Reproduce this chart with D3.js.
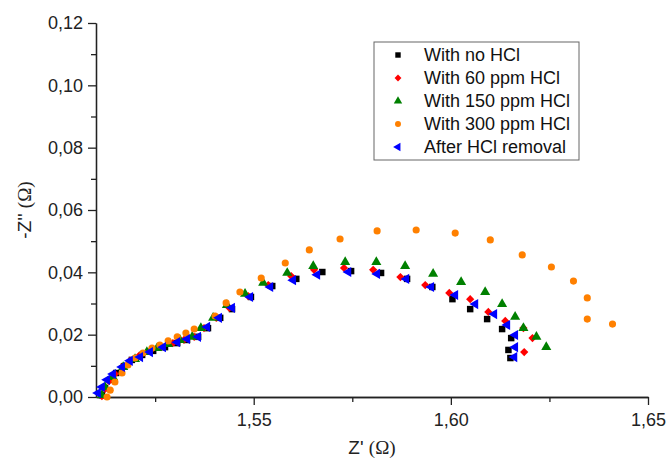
<!DOCTYPE html>
<html lang="en">
<head>
<meta charset="UTF-8"/>
<title>Nyquist plot HCl</title>
<script src="https://d3js.org/d3.v7.min.js"></script>
<style>
  body { margin: 0; background: #fff; }
  svg text { font-family: Arial, "Liberation Sans", sans-serif; }
</style>
</head>
<body>
<script>
// series names and values (Z', -Z'')
var seriesNames = ["With no HCl", "With 60 ppm HCl", "With 150 ppm HCl", "With 300 ppm HCl", "After HCl removal"];

var noHCl = [
  [1.6151,0.0125],[1.6146,0.0151],[1.6153,0.0189],[1.6130,0.0218],[1.6092,0.0250],[1.6049,0.0282],
  [1.6004,0.0314],[1.5953,0.0353],[1.5889,0.0379],[1.5823,0.0398],[1.5747,0.0404],[1.5674,0.0401],
  [1.5608,0.0379],[1.5547,0.0356],[1.5493,0.0321],[1.5445,0.0282],[1.5415,0.0254],[1.5384,0.0221],
  [1.5359,0.0193],[1.5331,0.0183],[1.5306,0.0173],[1.5275,0.0160],[1.5245,0.0148],[1.5217,0.0135],
  [1.5191,0.0119],[1.5171,0.0099],[1.5151,0.0077],[1.5136,0.0055],[1.5123,0.0029],[1.5115,0.0006]
];
var hcl60 = [
  [1.6186,0.0144],[1.6207,0.0189],[1.6184,0.0221],[1.6138,0.0244],[1.6095,0.0273],[1.6049,0.0314],
  [1.5996,0.0334],[1.5935,0.0359],[1.5872,0.0385],[1.5803,0.0408],[1.5729,0.0414],[1.5653,0.0408],
  [1.5595,0.0388],[1.5537,0.0359],[1.5486,0.0324],[1.5438,0.0286],[1.5405,0.0254],[1.5374,0.0221],
  [1.5349,0.0193],[1.5323,0.0183],[1.5295,0.0173],[1.5265,0.0160],[1.5237,0.0148],[1.5209,0.0132],
  [1.5186,0.0116],[1.5166,0.0096],[1.5148,0.0074],[1.5133,0.0051],[1.5123,0.0026],[1.5115,0.0003]
];
var hcl150 = [
  [1.6242,0.0160],[1.6217,0.0193],[1.6184,0.0221],[1.6163,0.0257],[1.6130,0.0298],[1.6087,0.0337],
  [1.6026,0.0369],[1.5955,0.0395],[1.5884,0.0420],[1.5811,0.0433],[1.5732,0.0433],[1.5651,0.0420],
  [1.5585,0.0398],[1.5524,0.0366],[1.5478,0.0331],[1.5432,0.0295],[1.5397,0.0254],[1.5366,0.0221],
  [1.5344,0.0193],[1.5313,0.0183],[1.5283,0.0170],[1.5255,0.0157],[1.5229,0.0144],[1.5199,0.0122],
  [1.5169,0.0096],[1.5143,0.0064],[1.5123,0.0032],[1.5115,0.0006]
];
var hcl300 = [
  [1.6410,0.0234],[1.6346,0.0250],[1.6346,0.0318],[1.6311,0.0372],[1.6255,0.0417],[1.6181,0.0456],
  [1.6100,0.0504],[1.6011,0.0526],[1.5912,0.0536],[1.5813,0.0533],[1.5719,0.0507],[1.5641,0.0472],
  [1.5580,0.0430],[1.5519,0.0382],[1.5465,0.0337],[1.5430,0.0302],[1.5402,0.0260],[1.5349,0.0218],
  [1.5328,0.0205],[1.5306,0.0193],[1.5283,0.0180],[1.5262,0.0167],[1.5242,0.0157],[1.5219,0.0141],
  [1.5199,0.0125],[1.5181,0.0103],[1.5166,0.0077],[1.5148,0.0048],[1.5136,0.0022],[1.5128,0.0000]
];
var afterRemoval = [
  [1.6161,0.0128],[1.6163,0.0160],[1.6163,0.0199],[1.6143,0.0231],[1.6110,0.0266],[1.6062,0.0298],
  [1.6011,0.0327],[1.5950,0.0353],[1.5887,0.0379],[1.5813,0.0395],[1.5740,0.0401],[1.5661,0.0392],
  [1.5600,0.0375],[1.5542,0.0353],[1.5491,0.0321],[1.5445,0.0286],[1.5412,0.0254],[1.5382,0.0225],
  [1.5359,0.0193],[1.5331,0.0186],[1.5306,0.0176],[1.5270,0.0160],[1.5237,0.0144],[1.5212,0.0128],
  [1.5186,0.0116],[1.5166,0.0096],[1.5143,0.0074],[1.5128,0.0055],[1.5115,0.0032],[1.5105,0.0013]
];

var xTicks = [1.55, 1.60, 1.65];
var yTicks = [0, 0.02, 0.04, 0.06, 0.08, 0.10, 0.12];
var xMinorTicks = [1.525, 1.575, 1.625];
var yMinorTicks = [0.01, 0.03, 0.05, 0.07, 0.09, 0.11];

(function() {
  var w = 670, h = 463;
  var mLeft = 96, mRight = 648, mTop = 23, mBottom = 397;

  var xScale = d3.scaleLinear().domain([1.51, 1.65]).range([mLeft, mRight]);
  var yScale = d3.scaleLinear().domain([0, 0.12]).range([mBottom, mTop]);

  var svg = d3.select("body").append("svg")
    .attr("width", w).attr("height", h);

  var comma = function(d) { return d3.format(".2f")(d).replace(".", ","); };

  // axes
  var xAxis = d3.axisBottom(xScale).tickValues(xTicks).tickSize(8).tickSizeOuter(0).tickFormat(comma);
  var yAxis = d3.axisLeft(yScale).tickValues(yTicks).tickSize(8).tickSizeOuter(0).tickFormat(comma);
  var minorX = d3.axisBottom(xScale).tickValues(xMinorTicks).tickSize(5).tickFormat("").tickSizeOuter(0);
  var minorY = d3.axisLeft(yScale).tickValues(yMinorTicks).tickSize(5).tickFormat("").tickSizeOuter(0);

  svg.append("g").attr("transform", "translate(0," + mBottom + ")").call(minorX);
  svg.append("g").attr("transform", "translate(" + mLeft + ",0)").call(minorY);
  var gx = svg.append("g").attr("transform", "translate(0," + mBottom + ")").call(xAxis);
  var gy = svg.append("g").attr("transform", "translate(" + mLeft + ",0)").call(yAxis);

  svg.selectAll(".domain, .tick line").attr("stroke", "#222").attr("stroke-width", 1.3);
  gx.attr("font-size", 18);
  gy.attr("font-size", 18);
  gx.selectAll("text").attr("fill", "#222").attr("y", 16);
  gy.selectAll("text").attr("fill", "#222").attr("x", -13);

  // axis titles
  svg.append("text").attr("x", (mLeft + mRight) / 2).attr("y", 454)
    .attr("text-anchor", "middle").attr("font-size", 19).attr("fill", "#222")
    .html("Z' <tspan font-family='Liberation Serif, Times New Roman, serif'>(&#937;)</tspan>");
  svg.append("text").attr("transform", "translate(31," + ((mTop + mBottom) / 2) + ") rotate(-90)")
    .attr("text-anchor", "middle").attr("font-size", 19).attr("fill", "#222")
    .html("-Z'' <tspan font-family='Liberation Serif, Times New Roman, serif'>(&#937;)</tspan>");

  // markers
  var series = [
    { name: seriesNames[0], data: noHCl,        color: "#000000", symbol: d3.symbolSquare,   size: 42, rot: 0 },
    { name: seriesNames[1], data: hcl60,        color: "#ff0000", symbol: d3.symbolSquare,   size: 34, rot: 45 },
    { name: seriesNames[2], data: hcl150,       color: "#008000", symbol: d3.symbolTriangle, size: 44, rot: 0 },
    { name: seriesNames[3], data: hcl300,       color: "#ff8000", symbol: d3.symbolCircle,   size: 40, rot: 0 },
    { name: seriesNames[4], data: afterRemoval, color: "#0000ff", symbol: d3.symbolTriangle, size: 44, rot: -90 }
  ];

  series.forEach(function(s) {
    svg.append("g").selectAll("path")
      .data(s.data)
      .enter()
      .append("path")
      .attr("d", d3.symbol().type(s.symbol).size(s.size))
      .attr("fill", s.color)
      .attr("transform", function(d) {
        return "translate(" + xScale(d[0]) + "," + yScale(d[1]) + ") rotate(" + s.rot + ")";
      });
  });

  // legend
  var legend = svg.append("g").attr("transform", "translate(374,42)");
  legend.append("rect").attr("width", 205).attr("height", 118)
    .attr("fill", "#fff").attr("stroke", "#666").attr("stroke-width", 1);
  series.forEach(function(s, i) {
    var y = 13 + i * 23;
    legend.append("path")
      .attr("d", d3.symbol().type(s.symbol).size(s.size * 0.7))
      .attr("fill", s.color)
      .attr("transform", "translate(24," + y + ") rotate(" + s.rot + ")");
    legend.append("text").attr("x", 50).attr("y", y).attr("dy", "0.36em")
      .attr("font-size", 18).attr("fill", "#111").text(s.name);
  });
})();
</script>
</body>
</html>
